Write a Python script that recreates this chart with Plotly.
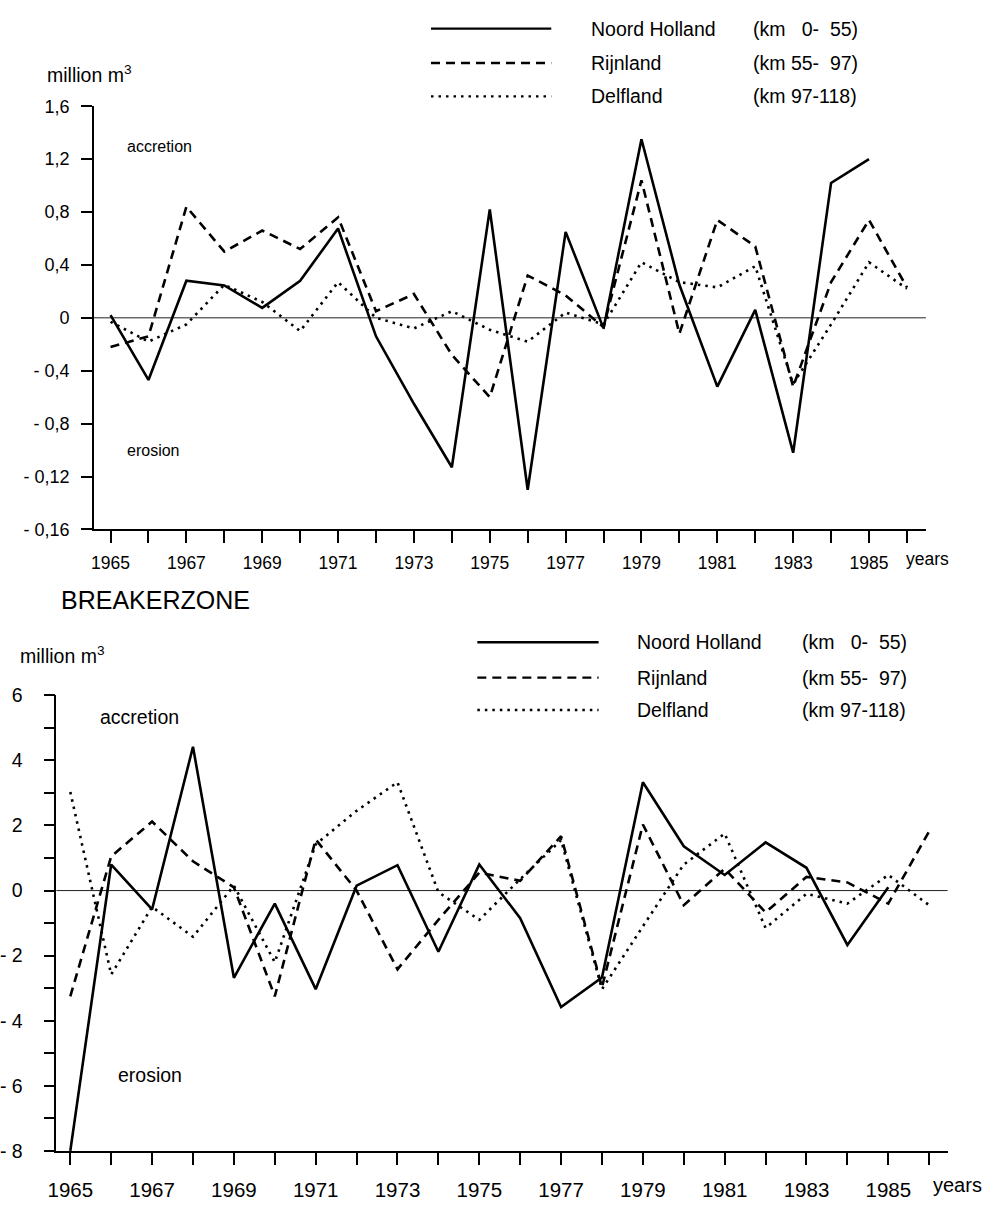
import plotly.graph_objects as go

# ---------------- data ----------------
years = list(range(1965, 1987))
label_years = list(range(1965, 1986, 2))

# upper chart (million m3)
top_noord_holland = [0.02, -0.47, 0.28, 0.245, 0.075, 0.28, 0.675, -0.14, -0.65, -1.13, 0.82,
                     -1.30, 0.65, -0.08, 1.35, 0.25, -0.52, 0.06, -1.02, 1.02, 1.20, None]
top_rijnland = [-0.22, -0.14, 0.84, 0.50, 0.66, 0.52, 0.76, 0.05, 0.18, -0.28, -0.60,
                0.32, 0.17, -0.07, 1.04, -0.12, 0.74, 0.54, -0.52, 0.27, 0.74, 0.23]
top_delfland = [-0.03, -0.18, -0.05, 0.25, 0.12, -0.10, 0.27, 0.00, -0.08, 0.05, -0.09,
                -0.18, 0.04, -0.05, 0.42, 0.27, 0.23, 0.39, -0.50, -0.05, 0.42, 0.22]

# lower chart: BREAKERZONE (million m3)
bz_noord_holland = [-8.0, 0.8, -0.58, 4.42, -2.68, -0.4, -3.03, 0.15, 0.78, -1.88, 0.8,
                    -0.85, -3.58, -2.67, 3.33, 1.36, 0.48, 1.48, 0.7, -1.67, 0.1, None]
bz_rijnland = [-3.25, 1.05, 2.12, 0.9, 0.1, -3.25, 1.57, 0.0, -2.42, -0.9, 0.55,
               0.3, 1.67, -2.97, 2.03, -0.45, 0.67, -0.67, 0.42, 0.25, -0.4, 1.82]
bz_delfland = [3.03, -2.58, -0.5, -1.42, 0.15, -2.2, 1.42, 2.45, 3.33, -0.05, -0.9,
               0.35, 1.55, -3.03, -1.1, 0.8, 1.75, -1.15, -0.1, -0.4, 0.48, -0.45]

series_names = ["Noord Holland", "Rijnland", "Delfland"]
series_ranges = ["(km\u00a0\u00a0\u00a00-\u00a0\u00a055)", "(km 55-\u00a0\u00a097)", "(km 97-118)"]

top_yticks = [1.6, 1.2, 0.8, 0.4, 0, -0.4, -0.8, -1.2, -1.6]
top_yticktext = ["1,6", "1,2", "0,8", "0,4", "0", "- 0,4", "- 0,8", "- 0,12", "- 0,16"]
bz_yticks = [6, 4, 2, 0, -2, -4, -6, -8]
bz_yticktext = ["6", "4", "2", "0", "- 2", "- 4", "- 6", "- 8"]
bz_yminor = [5, 3, 1, -1, -3, -5, -7]
xticktext = [str(y) for y in label_years]

# ---------------- styling ----------------
W, H = 988, 1210
FONT = "Liberation Sans, Arial, Helvetica, sans-serif"
dashes = ["solid", "9px,6px", "2.5px,5px"]
LW = 2.6


def px(x):
    return x / W


def py(y):
    return 1 - y / H


fig = go.Figure()
for vals, dash, name in zip([top_noord_holland, top_rijnland, top_delfland], dashes, series_names):
    fig.add_trace(go.Scatter(x=years, y=vals, mode="lines", name=name, showlegend=False,
                             line=dict(color="black", width=LW, dash=dash),
                             xaxis="x", yaxis="y"))
for vals, dash, name in zip([bz_noord_holland, bz_rijnland, bz_delfland], dashes, series_names):
    fig.add_trace(go.Scatter(x=years, y=vals, mode="lines", name=name, showlegend=False,
                             line=dict(color="black", width=LW, dash=dash),
                             xaxis="x2", yaxis="y2"))

axis_common = dict(showgrid=False, showline=True, linecolor="black", linewidth=1.6,
                   ticks="outside", tickcolor="black", tickwidth=1.6,
                   zeroline=False)
minor_x = dict(tickvals=years, ticks="outside", ticklen=12, tickwidth=1.6,
               tickcolor="black", showgrid=False)

fig.update_layout(
    width=W, height=H,
    margin=dict(l=0, r=0, t=0, b=0),
    paper_bgcolor="white", plot_bgcolor="white",
    font=dict(family=FONT, color="black"),
    xaxis=dict(domain=[px(81), px(925)], range=[1964.56, 1986.5], anchor="y",
               tickvals=label_years, ticktext=xticktext, ticklen=12, minor=minor_x,
               tickfont=dict(size=17.5), ticklabelstandoff=5, **axis_common),
    yaxis=dict(domain=[py(528), py(97)], range=[-1.6, 1.6], anchor="x",
               tickvals=top_yticks, ticktext=top_yticktext, ticklen=11,
               tickfont=dict(size=18), ticklabelstandoff=8, **axis_common),
    xaxis2=dict(domain=[px(43), px(947)], range=[1964.66, 1986.45], anchor="y2",
                tickvals=label_years, ticktext=xticktext, ticklen=12, minor=minor_x,
                tickfont=dict(size=20.5), ticklabelstandoff=8, **axis_common),
    yaxis2=dict(domain=[py(1161), py(697)], range=[-8, 6], anchor="x2",
                tickvals=bz_yticks, ticktext=bz_yticktext, ticklen=11,
                minor=dict(tickvals=bz_yminor, ticks="outside", ticklen=11, tickwidth=1.6,
                           tickcolor="black", showgrid=False),
                tickfont=dict(size=19.5), ticklabelstandoff=17, **axis_common),
)

# zero lines (thin horizontal reference at 0)
fig.add_shape(type="line", xref="x domain", yref="y", x0=0, x1=1, y0=0, y1=0,
              line=dict(color="#222", width=1), layer="below")
fig.add_shape(type="line", xref="x2 domain", yref="y2", x0=0, x1=1, y0=0, y1=0,
              line=dict(color="#222", width=1), layer="below")

annotations = []


def text(x, y, s, size, xanchor="left"):
    annotations.append(dict(x=px(x), y=py(y), xref="paper", yref="paper", text=s,
                            showarrow=False, xanchor=xanchor, yanchor="middle",
                            font=dict(size=size, family=FONT, color="black")))


# legends: line samples + labels
legend_specs = [
    dict(x0=423, x1=545, ys=[18, 53, 87], tx=583, rx=748, size=19.5),
    dict(x0=470, x1=593, ys=[643, 679, 712], tx=630, rx=797, size=19.5),
]
for spec in legend_specs:
    for yv, dash, name, rng in zip(spec["ys"], dashes, series_names, series_ranges):
        fig.add_shape(type="line", xref="paper", yref="paper",
                      x0=px(spec["x0"]), x1=px(spec["x1"]), y0=py(yv), y1=py(yv),
                      line=dict(color="black", width=2.4, dash=dash))
        text(spec["tx"], yv, name, spec["size"])
        text(spec["rx"], yv, rng, spec["size"])

# axis titles and labels
text(31, 64, "million m<sup>3</sup>", 19.5)
text(113, 138, "accretion", 16)
text(113, 448, "erosion", 16)
text(927, 558, "years", 17.5, "center")

text(46, 600, "BREAKERZONE", 25)
text(4, 656, "million m<sup>3</sup>", 19.5)
text(85, 719, "accretion", 19.5)
text(103, 1084, "erosion", 19.5)
text(957, 1196, "years", 20, "center")

fig.update_layout(annotations=annotations)

fig.write_html("out.html")
